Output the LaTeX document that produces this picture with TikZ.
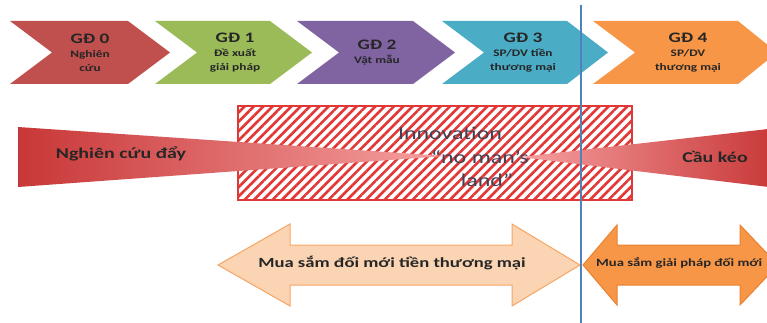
\documentclass[tikz,border=0pt]{standalone}
\usepackage{fontspec}
\setmainfont{Carlito}[FakeStretch=1.33]
\usepackage{tikz}
\usetikzlibrary{patterns.meta}
\definecolor{gdRed}{RGB}{192,80,77}
\definecolor{gdGreen}{RGB}{155,187,89}
\definecolor{gdPurple}{RGB}{128,100,162}
\definecolor{gdAqua}{RGB}{75,172,198}
\definecolor{gdOrange}{RGB}{247,150,70}
\definecolor{wedgeDark}{RGB}{200,55,55}
\definecolor{wedgeLight}{RGB}{246,160,160}
\definecolor{hatchRed}{RGB}{225,55,55}
\definecolor{lineBlue}{RGB}{79,129,189}
\definecolor{peach}{RGB}{251,212,180}
\definecolor{peachBorder}{RGB}{245,165,100}
\definecolor{orangeBorder}{RGB}{232,130,50}
\definecolor{textGray}{RGB}{65,65,85}
\newcommand{\gdtitle}[1]{{\fontsize{14.5}{14}\selectfont #1}}

\begin{document}
\begin{tikzpicture}[x=1pt, y=-1pt,
                % Style chữ trong mũi tên giai đoạn
                gdtext/.style={align=center, text=black!85, font=\bfseries\fontsize{10}{14}\selectfont, inner sep=0pt},
                % Style chữ trên nêm (đẩy / kéo)
                wedgetext/.style={text=black!85, font=\bfseries\fontsize{15}{18}\selectfont},
                % Style chữ vùng "no man's land"
                innotext/.style={text=textGray, font=\fontsize{18}{22}\selectfont, inner sep=0pt},
                % Style mũi tên mua sắm
                buyarrow/.style={draw=peachBorder, fill=peach, line width=1pt},
                buytext/.style={text=black!85, font=\bfseries\fontsize{14}{16}\selectfont}
            ]
                \clip (0,0) rectangle (767,323);

                % --- CÁC GIAI ĐOẠN (Tọa độ thủ công) ---
                \foreach \L/\R/\T/\col in {10/128/170/gdRed, 155/270/312/gdGreen, 297/413/455/gdPurple, 442/567/608/gdAqua, 593/738/777/gdOrange}
                    \fill[\col] (\L,21) -- (\R,21) -- (\T,52.5) -- (\R,84) -- (\L,84) -- (\L+42,52.5) -- cycle;

                \node[gdtext] (gd0) at (90,53) {\gdtitle{GĐ 0}\\Nghiên\\cứu};
                \node[gdtext] (gd1) at (235,53) {\gdtitle{GĐ 1}\\Đề xuất\\giải pháp};
                \node[gdtext] (gd2) at (377,53) {\gdtitle{GĐ 2}\\Vật mẫu};
                \node[gdtext] (gd3) at (523,53) {\gdtitle{GĐ 3}\\SP/DV tiền\\thương mại};
                \node[gdtext] (gd4) at (688,53) {\gdtitle{GĐ 4}\\SP/DV\\thương mại};

                % --- VÙNG "NO MAN'S LAND" ---
                \path[draw=hatchRed, line width=1.2pt, fill=white] (238,106) rectangle (632,200);
                \path[pattern={Lines[angle=45, distance=6.6pt, line width=2.6pt]}, pattern color=hatchRed] (238,106) rectangle (632,200);
                \node[innotext] (inno1) at (450,133) {Innovation};
                \node[innotext] (inno2) at (480,157) {“no man’s};
                \node[innotext] (inno3) at (487,180) {land”};

                % --- NÊM ĐẨY / KÉO ---
                \shade[left color=wedgeDark, right color=wedgeLight] (18,127) -- (445,156) -- (18,187) -- cycle;
                \shade[left color=wedgeLight, right color=wedgeDark] (520,157) -- (777,128) -- (777,188) -- cycle;
                \node[wedgetext] (push) at (121,154) {Nghiên cứu đẩy};
                \node[wedgetext] (pull) at (715,157) {Cầu kéo};

                % --- MŨI TÊN MUA SẮM ---
                \path[buyarrow] (218,265) -- (290,224) -- (290,245) -- (512,245) -- (512,224) -- (580,265)
                    -- (512,306) -- (512,285) -- (290,285) -- (290,306) -- cycle;
                \path[buyarrow, draw=orangeBorder, fill=gdOrange] (583,265) -- (617,225) -- (617,245) -- (740,245) -- (740,225) -- (778,265)
                    -- (740,305) -- (740,285) -- (617,285) -- (617,305) -- cycle;
                \node[buytext] (pcp) at (392,263) {Mua sắm đối mới tiền thương mại};
                \node[buytext, font=\bfseries\fontsize{11}{14}\selectfont, anchor=west, inner sep=0pt] (ppi) at (596,263) {Mua sắm giải pháp đối mới};

                % --- ĐƯỜNG PHÂN CÁCH ---
                \coordinate (divtop) at (581,5);
                \coordinate (divbot) at (581,323);
                \draw[lineBlue, line width=2.8pt] (divtop) -- (divbot);

            \end{tikzpicture}
\end{document}
